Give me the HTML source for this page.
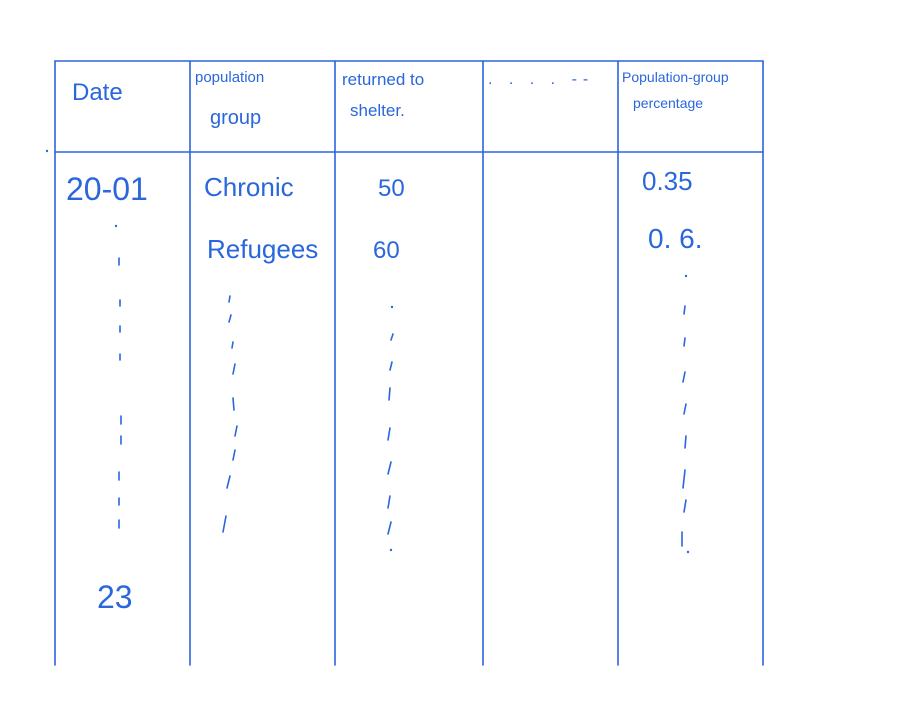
<!DOCTYPE html>
<html><head><meta charset="utf-8"><style>
html,body{margin:0;padding:0;background:#fff;}
svg{display:block}
text{font-family:"Liberation Sans",sans-serif;fill:#2a66dc;}
</style></head><body>
<svg width="920" height="704" viewBox="0 0 920 704" xmlns="http://www.w3.org/2000/svg">
<g stroke="#2a66dc" stroke-width="1.6" fill="none" stroke-linecap="round">
<line x1="55" y1="61" x2="763" y2="61"/>
<line x1="55" y1="152" x2="763" y2="152"/>
<line x1="55" y1="61" x2="55" y2="665"/>
<line x1="190" y1="61" x2="190" y2="665"/>
<line x1="335" y1="61" x2="335" y2="665"/>
<line x1="483" y1="61" x2="483" y2="665"/>
<line x1="618" y1="61" x2="618" y2="665"/>
<line x1="763" y1="61" x2="763" y2="665"/>
<!-- ticks col1 -->
<line x1="119" y1="258" x2="119" y2="265"/>
<line x1="120" y1="300" x2="120" y2="306"/>
<line x1="120" y1="326" x2="120" y2="332"/>
<line x1="120" y1="354" x2="120" y2="360"/>
<line x1="121" y1="416" x2="121" y2="424"/>
<line x1="121" y1="436" x2="121" y2="444"/>
<line x1="119" y1="472" x2="119" y2="480"/>
<line x1="119" y1="498" x2="119" y2="505"/>
<line x1="119" y1="520" x2="119" y2="528"/>
<!-- col2 -->
<line x1="230" y1="296" x2="229" y2="302"/>
<line x1="231" y1="315" x2="229" y2="322"/>
<line x1="233" y1="342" x2="232" y2="348"/>
<line x1="235" y1="364" x2="233" y2="374"/>
<line x1="233" y1="398" x2="234" y2="410"/>
<line x1="237" y1="426" x2="235" y2="436"/>
<line x1="235" y1="450" x2="233" y2="460"/>
<line x1="230" y1="476" x2="227" y2="488"/>
<line x1="226" y1="516" x2="223" y2="532"/>
<!-- col3 -->
<line x1="393" y1="334" x2="391" y2="340"/>
<line x1="392" y1="362" x2="390" y2="370"/>
<line x1="390" y1="388" x2="389" y2="400"/>
<line x1="390" y1="428" x2="388" y2="440"/>
<line x1="391" y1="462" x2="388" y2="474"/>
<line x1="390" y1="496" x2="388" y2="508"/>
<line x1="391" y1="522" x2="388" y2="534"/>
<!-- col5 -->
<line x1="685" y1="306" x2="684" y2="314"/>
<line x1="685" y1="338" x2="684" y2="346"/>
<line x1="685" y1="372" x2="683" y2="382"/>
<line x1="686" y1="404" x2="684" y2="414"/>
<line x1="686" y1="436" x2="685" y2="448"/>
<line x1="685" y1="470" x2="683" y2="488"/>
<line x1="686" y1="500" x2="684" y2="512"/>
<line x1="682" y1="532" x2="682" y2="546"/>
</g>
<g fill="#2a66dc">
<circle cx="116" cy="226" r="1.2"/>
<circle cx="392" cy="307" r="1.2"/>
<circle cx="391" cy="550" r="1.2"/>
<circle cx="686" cy="276" r="1.2"/>
<circle cx="688" cy="552" r="1.2"/>
<circle cx="47" cy="151" r="1.2"/>
</g>
<text x="72" y="100" font-size="24">Date</text>
<text x="195" y="82" font-size="15">population</text>
<text x="210" y="124" font-size="20">group</text>
<text x="342" y="85" font-size="17">returned to</text>
<text x="350" y="116" font-size="17">shelter.</text>
<text x="488" y="84" font-size="16" letter-spacing="6">. . . . --</text>
<text x="622" y="82" font-size="14">Population-group</text>
<text x="633" y="108" font-size="14">percentage</text>
<text x="66" y="200" font-size="32">20-01</text>
<text x="204" y="196" font-size="26">Chronic</text>
<text x="378" y="196" font-size="24">50</text>
<text x="642" y="190" font-size="26">0.35</text>
<text x="207" y="258" font-size="26">Refugees</text>
<text x="373" y="258" font-size="24">60</text>
<text x="648" y="248" font-size="28">0. 6.</text>
<text x="97" y="608" font-size="32">23</text>
</svg>
</body></html>
